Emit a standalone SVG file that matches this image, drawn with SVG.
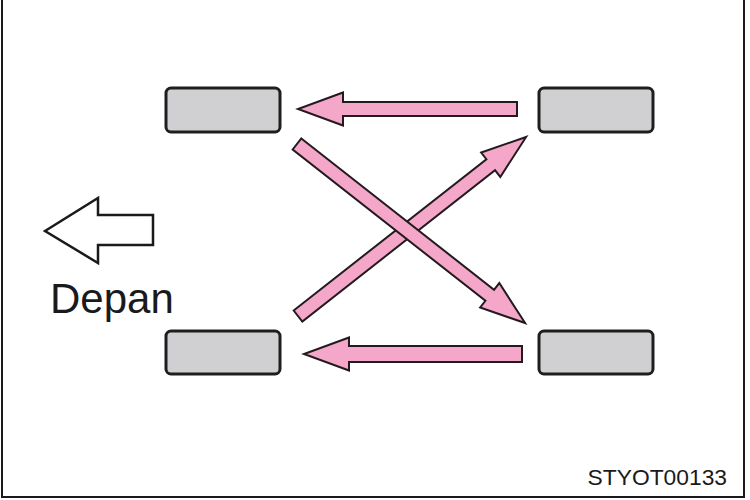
<svg xmlns="http://www.w3.org/2000/svg" width="750" height="500" viewBox="0 0 750 500">
  <style>
    .tire { fill: #d0d0d2; stroke: #1e1e1e; stroke-width: 3; }
    .rot { fill: #f4a7c9; stroke: #231a1f; stroke-width: 2; stroke-linejoin: miter; }
    .front { fill: #ffffff; stroke: #1a1a1a; stroke-width: 2.5; }
    .lbl { font-family: "Liberation Sans", Arial, sans-serif; fill: #1a1a1a; }
  </style>
  <rect x="0" y="0" width="750" height="500" fill="#ffffff"/>
  <path d="M2,0 V497 H744 V0" fill="none" stroke="#1a1a1a" stroke-width="2"/>

  <g id="tire-front-left"><rect class="tire" x="166" y="88" width="114" height="44" rx="5"/></g>
  <g id="tire-rear-left"><rect class="tire" x="539" y="88" width="114" height="44" rx="5"/></g>
  <g id="tire-front-right"><rect class="tire" x="166" y="331" width="114" height="43" rx="5"/></g>
  <g id="tire-rear-right"><rect class="tire" x="539" y="331" width="114" height="43" rx="5"/></g>

  <g id="connectors">
    <polygon class="rot" transform="translate(517,109) rotate(180)" points="0,-7 174,-7 174,-16.5 219,0 174,16.5 174,7 0,7"/>
    <polygon class="rot" transform="translate(522,354) rotate(180)" points="0,-8 173,-8 173,-16.5 218,0 173,16.5 173,8 0,8"/>
    <polygon class="rot" transform="translate(298,316) rotate(-38.13)" points="0,-7 245,-7 245,-15.5 290,0 245,15.5 245,7 0,7"/>
    <polygon class="rot" transform="translate(297,144) rotate(38.13)" points="0,-7 245,-7 245,-15.5 290,0 245,15.5 245,7 0,7"/>
  </g>

  <g id="front-indicator">
    <polygon class="front" points="45,231 98,198 98,215 153,215 153,245 98,245 98,263"/>
    <text class="lbl" x="50" y="313" font-size="42">Depan</text>
  </g>

  <text class="lbl" x="727" y="485" font-size="22.8" text-anchor="end">STYOT00133</text>
</svg>
